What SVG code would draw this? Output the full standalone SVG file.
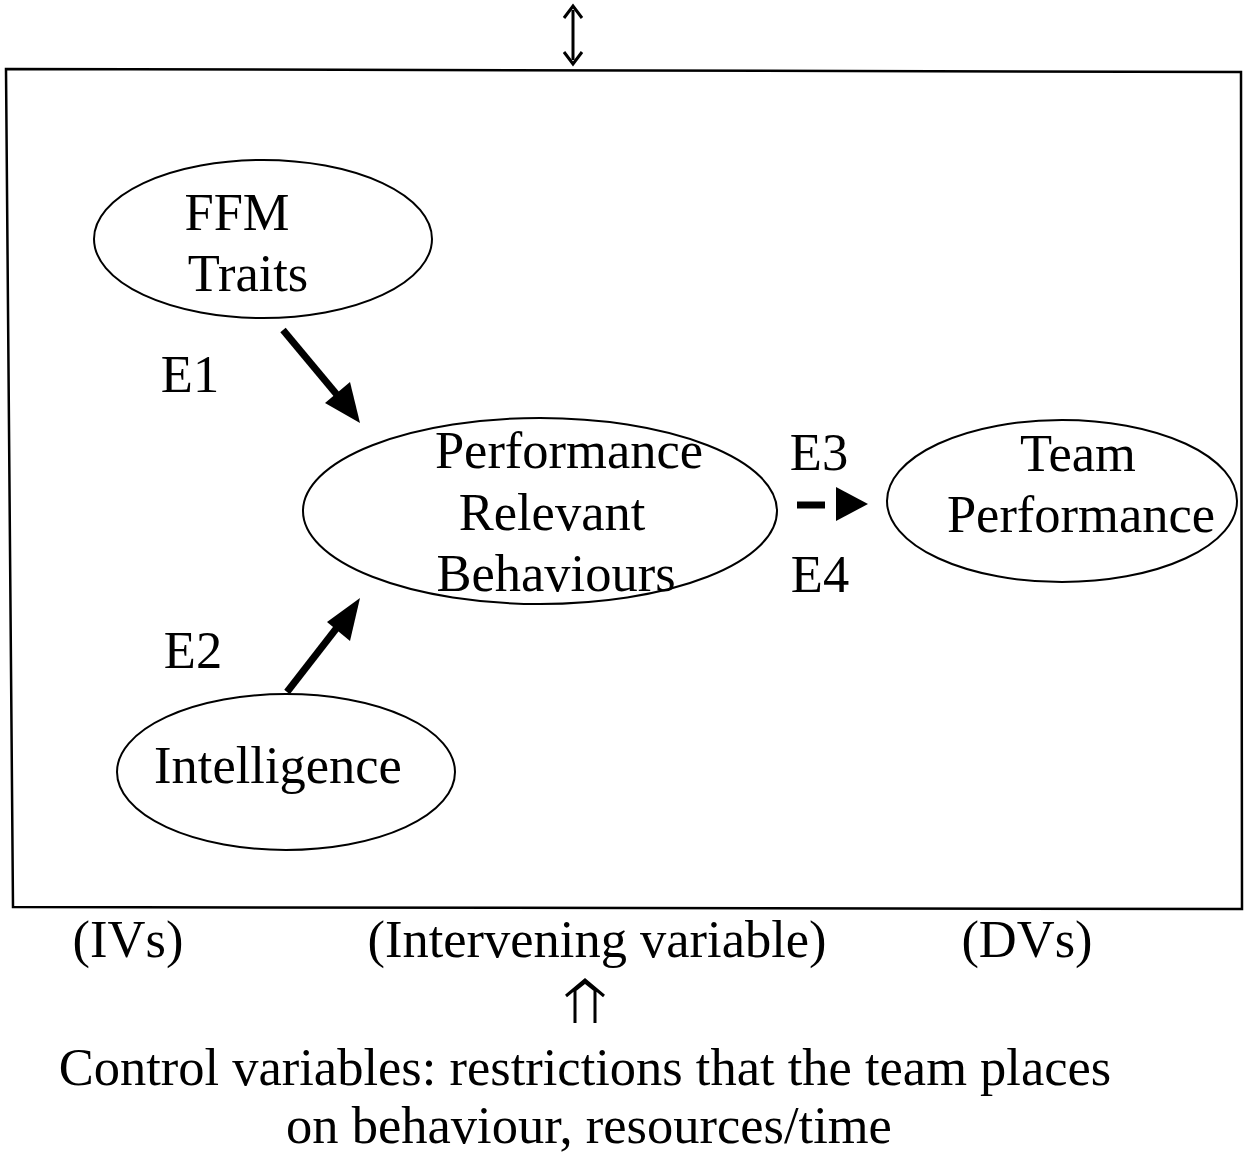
<svg xmlns="http://www.w3.org/2000/svg" width="1246" height="1155" viewBox="0 0 1246 1155">
<style>
text{font-family:"Liberation Serif","Times New Roman",serif;font-size:52.5px;fill:#000}
.node ellipse{fill:none;stroke:#000;stroke-width:2}
.c{text-anchor:middle}
</style>
<rect width="1246" height="1155" fill="#fff"/>
<polygon id="frame" points="6,69 1241,72 1242,909 13,907" fill="none" stroke="#000" stroke-width="2.5"/>
<g id="node-ffm" class="node">
<ellipse cx="263" cy="239" rx="169" ry="79"/>
<text x="237" y="230" class="c">FFM</text>
<text x="248" y="291" class="c">Traits</text>
</g>
<g id="node-prb" class="node">
<ellipse cx="540" cy="511" rx="237" ry="93"/>
<text x="569" y="468" class="c">Performance</text>
<text x="552" y="530" class="c">Relevant</text>
<text x="556" y="591" class="c">Behaviours</text>
</g>
<g id="node-team" class="node">
<ellipse cx="1062" cy="501" rx="175" ry="81"/>
<text x="1078" y="471" class="c">Team</text>
<text x="1081" y="532" class="c">Performance</text>
</g>
<g id="node-int" class="node">
<ellipse cx="286" cy="772" rx="169" ry="78"/>
<text x="278" y="783" class="c">Intelligence</text>
</g>
<g id="labels">
<text x="190" y="392" class="c">E1</text>
<text x="193" y="668" class="c">E2</text>
<text x="819" y="470" class="c">E3</text>
<text x="820" y="592" class="c">E4</text>
<text x="128" y="957" class="c">(IVs)</text>
<text x="597" y="957" class="c">(Intervening variable)</text>
<text x="1027" y="957" class="c">(DVs)</text>
<text x="585" y="1085" class="c">Control variables: restrictions that the team places</text>
<text x="589" y="1143" class="c">on behaviour, resources/time</text>
</g>
<g id="connectors" stroke="#000" fill="none">
<path d="M283,330 L338,396" stroke-width="7"/>
<polygon points="360,423 325,403 350,382" fill="#000" stroke="none"/>
<path d="M287,692 L339,625" stroke-width="7"/>
<polygon points="360,598 350,641 327,622" fill="#000" stroke="none"/>
<path d="M797,505 L825,505" stroke-width="7"/>
<polygon points="868,504 836,487 836,521" fill="#000" stroke="none"/>
<path d="M573,10 L573,60" stroke-width="3"/>
<path d="M564,18 L573,6 L582,18 M564,52 L573,64 L582,52" stroke-width="3"/>
<path d="M575,1023 L575,990 L585,982 L595,990 L595,1023 M566,996 L585,980 L604,996" stroke-width="3"/>
</g>
</svg>
